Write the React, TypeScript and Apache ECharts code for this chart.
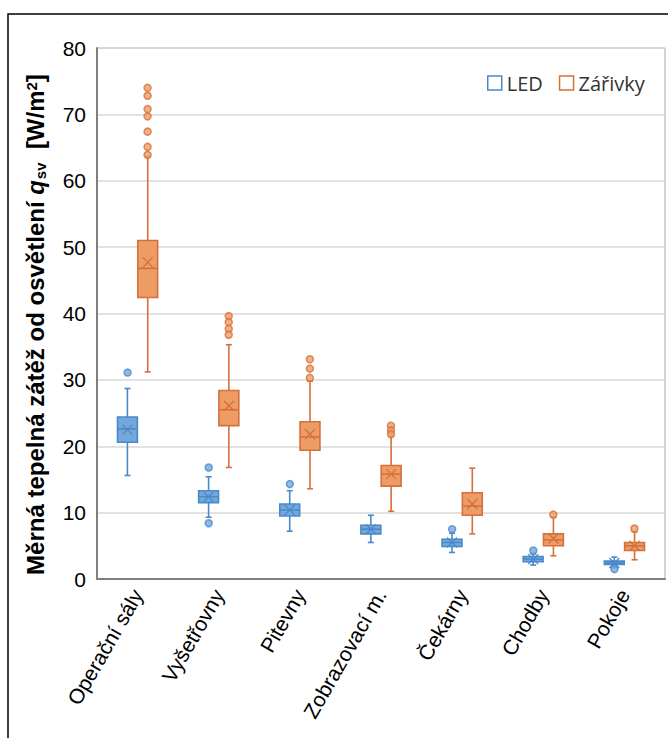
import React, { useEffect, useRef } from "react";
import * as echarts from "echarts";

const categories = ["Operační sály", "Vyšetřovny", "Pitevny", "Zobrazovací m.", "Čekárny", "Chodby", "Pokoje"];
const yTicks = [0, 10, 20, 30, 40, 50, 60, 70, 80];

const ledMin = [15.6, 9.3, 7.2, 5.5, 4.0, 2.1, 1.7];
const ledQ1 = [20.6, 11.5, 9.5, 6.8, 4.9, 2.6, 2.2];
const ledMedian = [22.6, 12.4, 10.4, 7.5, 5.5, 3.0, 2.4];
const ledQ3 = [24.4, 13.3, 11.3, 8.1, 6.0, 3.4, 2.7];
const ledMax = [28.7, 15.4, 13.3, 9.6, 6.9, 3.8, 3.3];
const ledMean = [22.5, 12.4, 10.4, 7.5, 5.5, 3.0, 2.4];
const ledOutliers = [[0, 31.1], [1, 16.8], [1, 8.4], [2, 14.3], [4, 7.5], [5, 4.3], [6, 1.5]];

const flMin = [31.2, 16.8, 13.6, 10.2, 6.8, 3.5, 2.9];
const flQ1 = [42.4, 23.1, 19.4, 14.0, 9.6, 5.0, 4.3];
const flMedian = [46.8, 25.5, 21.4, 15.8, 11.0, 5.9, 5.0];
const flQ3 = [51.0, 28.4, 23.7, 17.1, 13.0, 6.8, 5.5];
const flMax = [63.6, 35.3, 29.8, 21.5, 16.7, 9.3, 7.1];
const flMean = [47.7, 26.1, 21.8, 15.8, 11.3, 6.1, 5.0];
const flOutliers = [
  [0, 74.0], [0, 72.8], [0, 70.8], [0, 69.7], [0, 67.4], [0, 65.1], [0, 63.9],
  [1, 39.6], [1, 38.7], [1, 37.7], [1, 36.8],
  [2, 33.1], [2, 31.7], [2, 30.3],
  [3, 23.1], [3, 22.4], [3, 21.8],
  [5, 9.7], [6, 7.6],
];

const LED_STROKE = "#4a89c9";
const LED_FILL = "#74a8dc";
const FL_STROKE = "#d6703a";
const FL_FILL = "#ee9c66";

function boxData(mn: number[], q1: number[], md: number[], q3: number[], mx: number[], mean: number[]) {
  return categories.map((_, i) => [i, mn[i], q1[i], md[i], q3[i], mx[i], mean[i]]);
}

function makeRender(side: number, stroke: string, fill: string) {
  return (params: any, api: any) => {
    const ci = api.value(0);
    const band = api.size([1, 0])[0];
    const off = side * band * 0.125;
    const w = band * 0.245;
    const cap = 6;
    const p = (v: number) => api.coord([ci, v]);
    const pMin = p(api.value(1));
    const pQ1 = p(api.value(2));
    const pMd = p(api.value(3));
    const pQ3 = p(api.value(4));
    const pMax = p(api.value(5));
    const pMean = p(api.value(6));
    const x = pMin[0] + off;
    const ls = { stroke, lineWidth: 1.6 };
    const xs = 5;
    return {
      type: "group",
      children: [
        { type: "line", shape: { x1: x, y1: pQ3[1], x2: x, y2: pMax[1] }, style: ls },
        { type: "line", shape: { x1: x - cap / 2, y1: pMax[1], x2: x + cap / 2, y2: pMax[1] }, style: ls },
        { type: "line", shape: { x1: x, y1: pQ1[1], x2: x, y2: pMin[1] }, style: ls },
        { type: "line", shape: { x1: x - cap / 2, y1: pMin[1], x2: x + cap / 2, y2: pMin[1] }, style: ls },
        { type: "rect", shape: { x: x - w / 2, y: pQ3[1], width: w, height: pQ1[1] - pQ3[1] }, style: { fill, stroke, lineWidth: 1.6 } },
        { type: "line", shape: { x1: x - w / 2, y1: pMd[1], x2: x + w / 2, y2: pMd[1] }, style: ls },
        { type: "line", shape: { x1: x - xs, y1: pMean[1] - xs, x2: x + xs, y2: pMean[1] + xs }, style: { stroke, lineWidth: 1.3 } },
        { type: "line", shape: { x1: x - xs, y1: pMean[1] + xs, x2: x + xs, y2: pMean[1] - xs }, style: { stroke, lineWidth: 1.3 } },
      ],
    };
  };
}

export default function App() {
  const ref = useRef<HTMLDivElement>(null);
  useEffect(() => {
    if (!ref.current) return;
    const chart = echarts.init(ref.current, undefined, { renderer: "svg" });
    const nameFont = "Liberation Sans";
    chart.setOption({
      animation: false,
      backgroundColor: "#fff",
      graphic: [
        {
          type: "rect",
          shape: { x: 8, y: 14, width: 720, height: 780 },
          style: { fill: "none", stroke: "#000", lineWidth: 1.5 },
          silent: true,
        },
      ],
      legend: {
        left: 482,
        top: 68,
        itemWidth: 14,
        itemHeight: 14,
        itemGap: 16,
        icon: "rect",
        textStyle: { fontSize: 20, color: "#333", fontFamily: "Open Sans" },
        data: [
          { name: "LED", itemStyle: { color: "rgba(0,0,0,0)", borderColor: LED_STROKE, borderWidth: 1.5 } },
          { name: "Zářivky", itemStyle: { color: "rgba(0,0,0,0)", borderColor: FL_STROKE, borderWidth: 1.5 } },
        ],
      },
      grid: { left: 97, right: 3, top: 48, bottom: 159, show: true, borderColor: "#a6a6a6", borderWidth: 1 },
      xAxis: {
        type: "category",
        data: categories,
        boundaryGap: true,
        axisTick: { show: false },
        axisLine: { lineStyle: { color: "#808080", width: 2 } },
        axisLabel: { rotate: 60, fontSize: 21, color: "#000", fontFamily: nameFont, margin: 12, interval: 0 },
      },
      yAxis: {
        type: "value",
        min: yTicks[0],
        max: yTicks[yTicks.length - 1],
        interval: 10,
        axisLine: { show: true, lineStyle: { color: "#808080", width: 2 } },
        axisTick: { show: false },
        splitLine: { lineStyle: { color: "#d9d9d9", width: 1.5 } },
        axisLabel: { fontSize: 21, color: "#000", fontFamily: nameFont, margin: 11 },
        name: "{b|Měrná tepelná zátěž od osvětlení }{q|q}{s|sv}{b|  [W/m}{p|2}{b|]}",
        nameLocation: "middle",
        nameGap: 47,
        nameTextStyle: {
          padding: [0, 22, 0, 0],
          rich: {
            b: { fontSize: 24, fontWeight: "bold", fontFamily: nameFont, color: "#000", lineHeight: 30 },
            q: { fontSize: 24, fontWeight: "bold", fontStyle: "italic", fontFamily: nameFont, color: "#000", lineHeight: 30 },
            s: { fontSize: 15, fontWeight: "bold", fontFamily: nameFont, color: "#000", verticalAlign: "bottom", lineHeight: 15, padding: [0, 0, 2, 1] },
            p: { fontSize: 15, fontWeight: "bold", fontFamily: nameFont, color: "#000", verticalAlign: "top", lineHeight: 15, padding: [4, 0, 0, 0] },
          },
        },
      },
      series: [
        {
          name: "LED",
          type: "custom",
          renderItem: makeRender(-1, LED_STROKE, LED_FILL),
          itemStyle: { color: LED_STROKE },
          encode: { x: 0, y: [1, 2, 3, 4, 5] },
          data: boxData(ledMin, ledQ1, ledMedian, ledQ3, ledMax, ledMean),
          z: 3,
        },
        {
          name: "Zářivky",
          type: "custom",
          renderItem: makeRender(1, FL_STROKE, FL_FILL),
          itemStyle: { color: FL_STROKE },
          encode: { x: 0, y: [1, 2, 3, 4, 5] },
          data: boxData(flMin, flQ1, flMedian, flQ3, flMax, flMean),
          z: 3,
        },
        {
          name: "LED outliers",
          type: "scatter",
          symbol: "circle",
          symbolSize: 7,
          symbolOffset: [-10, 0],
          itemStyle: { color: LED_FILL, borderColor: LED_STROKE, borderWidth: 1.5 },
          data: ledOutliers,
          z: 4,
        },
        {
          name: "Zářivky outliers",
          type: "scatter",
          symbol: "circle",
          symbolSize: 7,
          symbolOffset: [10, 0],
          itemStyle: { color: FL_FILL, borderColor: FL_STROKE, borderWidth: 1.5 },
          data: flOutliers,
          z: 4,
        },
      ],
    });
    return () => chart.dispose();
  }, []);
  return <div ref={ref} style={{ position: "fixed", left: 0, top: 0, width: 668, height: 738 }} />;
}
